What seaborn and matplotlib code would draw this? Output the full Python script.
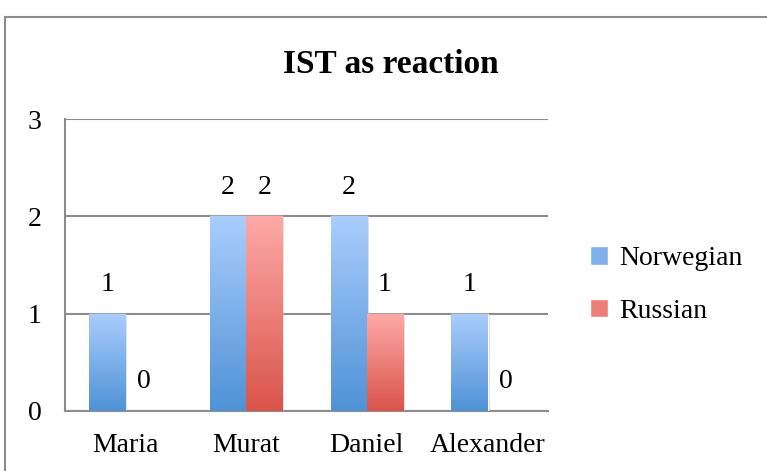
import numpy as np
import pandas as pd
import matplotlib.pyplot as plt
import matplotlib.patheffects as pe
from matplotlib.colors import LinearSegmentedColormap
from matplotlib.patches import Rectangle
import seaborn as sns

names = ["Maria", "Murat", "Daniel", "Alexander"]
norwegian = [1, 2, 2, 1]
russian = [0, 2, 1, 0]
series = ["Norwegian", "Russian"]

df = pd.DataFrame({
    "name": names * 2,
    "value": norwegian + russian,
    "group": ["Norwegian"] * len(names) + ["Russian"] * len(names),
})

sns.set_style("white")
plt.rcParams["font.family"] = ["Liberation Serif", "DejaVu Serif"]
plt.rcParams["text.color"] = "black"
plt.rcParams["xtick.color"] = "black"
plt.rcParams["ytick.color"] = "black"

blue_cmap = LinearSegmentedColormap.from_list("b", ["#4f92d6", "#aacdfd"])
red_cmap = LinearSegmentedColormap.from_list("r", ["#d9544a", "#feaaa8"])
cmaps = [blue_cmap, red_cmap]

fig = plt.figure(figsize=(7.67, 4.71), dpi=100)
ax = fig.add_axes([0.0847, 0.1274, 0.6298, 0.6199])

sns.barplot(data=df, x="name", y="value", hue="group", hue_order=series,
            palette=["#7fb0ea", "#ee7f78"], width=0.6, legend=False,
            ax=ax, zorder=3)

# gradient fill like the original spreadsheet chart
grad = np.linspace(0, 1, 256).reshape(-1, 1)
for cont, cmap in zip(ax.containers, cmaps):
    for bar, val in zip(cont, cont.datavalues):
        x, y = bar.get_x(), bar.get_y()
        w, h = bar.get_width(), bar.get_height()
        if h > 0:
            bar.set_path_effects([pe.SimplePatchShadow(offset=(1.5, -1.5),
                                                       shadow_rgbFace="#999999",
                                                       alpha=0.35), pe.Normal()])
            im = ax.imshow(grad, extent=[x, x + w, y, y + h], origin="lower",
                           cmap=cmap, aspect="auto", zorder=4)
            im.set_clip_path(bar)
        else:
            bar.set_visible(False)
        ax.annotate(f"{val:g}", (x + w / 2, y + h), xytext=(0, 21),
                    textcoords="offset points", ha="center", va="center",
                    fontsize=20, color="black", zorder=5)

ax.set_xlim(-0.5, 3.5)
ax.set_ylim(0, 3)
ax.set_yticks([0, 1, 2, 3])
ax.yaxis.grid(True, color="#8c8c8c", linewidth=1.5, zorder=0)
ax.set_axisbelow(True)
ax.set_xlabel("")
ax.set_ylabel("")
for s in ["top", "right"]:
    ax.spines[s].set_visible(False)
for s in ["left", "bottom"]:
    ax.spines[s].set_color("#8c8c8c")
    ax.spines[s].set_linewidth(1.5)
ax.set_xticks(np.arange(-0.5, 4, 1), minor=True)
ax.tick_params(axis="x", which="major", length=0, labelsize=20, pad=16)
ax.tick_params(axis="x", which="minor", length=7, width=1.5, color="#8c8c8c")
ax.tick_params(axis="y", which="major", length=7, width=1.5, color="#8c8c8c",
               labelsize=20, pad=10)

fig.text(0.509, 0.864, "IST as reaction", ha="center", va="center",
         fontsize=24, fontweight="bold")

handles = [Rectangle((0, 0), 1, 1, facecolor=c) for c in ["#7fb0ea", "#ee7f78"]]
fig.legend(handles, series, loc="center left", bbox_to_anchor=(0.737, 0.395),
           frameon=False, fontsize=20, handlelength=0.65, handleheight=0.65,
           handletextpad=0.4, labelspacing=1.0)

fig.patches.append(Rectangle((5 / 767, -0.1), 1.2, 1 - 17 / 471 + 0.1,
                             transform=fig.transFigure, fill=False,
                             edgecolor="#8c8c8c", linewidth=1.5))

fig.savefig("out.png", dpi=100)
